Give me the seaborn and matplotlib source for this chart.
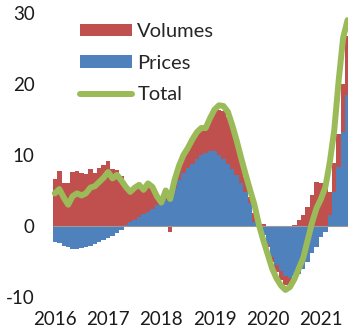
import numpy as np
import pandas as pd
import matplotlib
matplotlib.use("Agg")
import matplotlib.pyplot as plt
import seaborn as sns
from matplotlib.lines import Line2D
from matplotlib.patches import Patch

# Monthly contributions, Jan 2016 - Jul 2021 (percentage points)
prices = [
    -2.2, -2.4, -2.8, -3.0, -3.2, -3.2, -3.1, -3.0, -2.8, -2.5, -2.3, -2.0,
    -1.7, -1.4, -1.0, -0.6, 0.1, 0.5, 0.9, 1.3, 1.7, 2.0, 2.4, 2.9,
    3.3, 3.7, 4.4, 5.3, 6.5, 7.4, 8.1, 8.8, 9.5, 10.0, 10.3, 10.6,
    10.5, 10.0, 9.4, 8.7, 8.0, 7.2, 6.1, 4.8, 3.2, 0.6, -0.3, -1.3,
    -2.7, -4.3, -5.5, -6.4, -7.1, -7.3, -7.1, -6.7, -6.0, -5.0, -3.8, -2.9,
    -1.5, -0.8, 1.5, 4.8, 8.3, 13.2, 18.4,
]
volumes = [
    6.6, 7.7, 6.0, 6.0, 7.6, 7.8, 7.5, 7.3, 8.0, 7.5, 8.1, 8.6,
    9.2, 8.0, 7.9, 7.0, 5.4, 4.3, 4.5, 4.5, 3.4, 4.0, 3.1, 1.3,
    -0.1, 1.3, -0.8, 1.2, 2.0, 2.6, 2.9, 3.4, 3.7, 3.4, 3.3, 4.4,
    5.7, 6.4, 6.8, 6.6, 6.0, 4.7, 3.4, 2.1, 0.9, 1.2, 0.5, 0.3,
    -0.3, -0.7, -1.0, -1.2, -1.2, -0.8, 0.1, 0.8, 1.5, 2.7, 4.4, 6.2,
    6.0, 5.6, 3.3, 4.1, 4.7, 6.8, 8.4,
]
total = [
    4.6, 5.2, 4.0, 3.0, 4.2, 4.6, 4.3, 4.6, 5.4, 5.6, 6.2, 6.8,
    7.6, 6.7, 7.2, 6.4, 5.5, 4.8, 5.4, 5.8, 5.1, 6.0, 5.5, 4.2,
    3.3, 5.0, 3.8, 6.5, 8.5, 10.0, 11.0, 12.2, 13.2, 13.8, 13.8, 15.2,
    16.4, 17.0, 16.9, 16.1, 14.2, 12.0, 9.6, 7.3, 5.1, 3.0, 0.2, -2.0,
    -4.0, -6.0, -7.4, -8.4, -9.0, -8.6, -7.5, -6.0, -4.5, -2.0, 0.5, 2.5,
    3.8, 5.5, 9.0, 13.5, 20.5, 26.5, 29.0,
]
year_labels = ["2016", "2017", "2018", "2019", "2020", "2021"]
y_ticks = [-10, 0, 10, 20, 30]
series_names = ["Volumes", "Prices", "Total"]

RED = "#C0504D"
BLUE = "#4F81BD"
GREEN = "#9BBB59"

sns.set_theme(style="white")
plt.rcParams["font.family"] = ["Lato", "DejaVu Sans"]

n = len(prices)
df = pd.DataFrame({
    "month": np.arange(n),
    "prices": prices,
    "volumes": volumes,
    "total": total,
})
# stack volumes on top of prices when both share a sign, otherwise from zero
same_sign = np.sign(df["volumes"]) == np.sign(df["prices"])
vol_base = np.where(same_sign, df["prices"], 0.0)

fig = plt.figure(figsize=(3.48, 3.30), dpi=100)
ax = fig.add_axes([50 / 348, 33 / 330, 298 / 348, 284 / 330])

ax.bar(df["month"], df["prices"], width=1.0, color=BLUE, linewidth=0, zorder=2)
ax.bar(df["month"], df["volumes"], bottom=vol_base, width=1.0, color=RED,
       linewidth=0, zorder=2)
ax.hlines(0, -0.5, n - 0.5, color="#9a9a9a", lw=0.8, zorder=3)
sns.lineplot(data=df, x="month", y="total", color=GREEN, lw=4.3, ax=ax,
             zorder=4, solid_capstyle="round", legend=False)

ax.set_xlim(-1.1, 66.1)
ax.set_ylim(-10, 30)
ax.set_xticks(np.arange(len(year_labels)) * 12, year_labels)
ax.set_yticks(y_ticks, [str(t) for t in y_ticks])
ax.tick_params(axis="both", length=0, labelsize=13.5, colors="#1a1a1a")
ax.tick_params(axis="y", pad=11)
ax.tick_params(axis="x", pad=10)
ax.set_xlabel("")
ax.set_ylabel("")
sns.despine(ax=ax, left=True, bottom=True)
ax.grid(False)

handles = [
    Patch(facecolor=RED, edgecolor="none"),
    Patch(facecolor=BLUE, edgecolor="none"),
    Line2D([], [], color=GREEN, lw=4.3, solid_capstyle="round"),
]
fig.legend(handles, series_names, loc="upper left",
           bbox_to_anchor=(80 / 348, 1 - 23 / 330), frameon=False,
           fontsize=14.5, handlelength=2.6, handleheight=0.6,
           handletextpad=0.25, labelspacing=0.73, borderpad=0,
           borderaxespad=0)

fig.savefig("out.png", dpi=100)
